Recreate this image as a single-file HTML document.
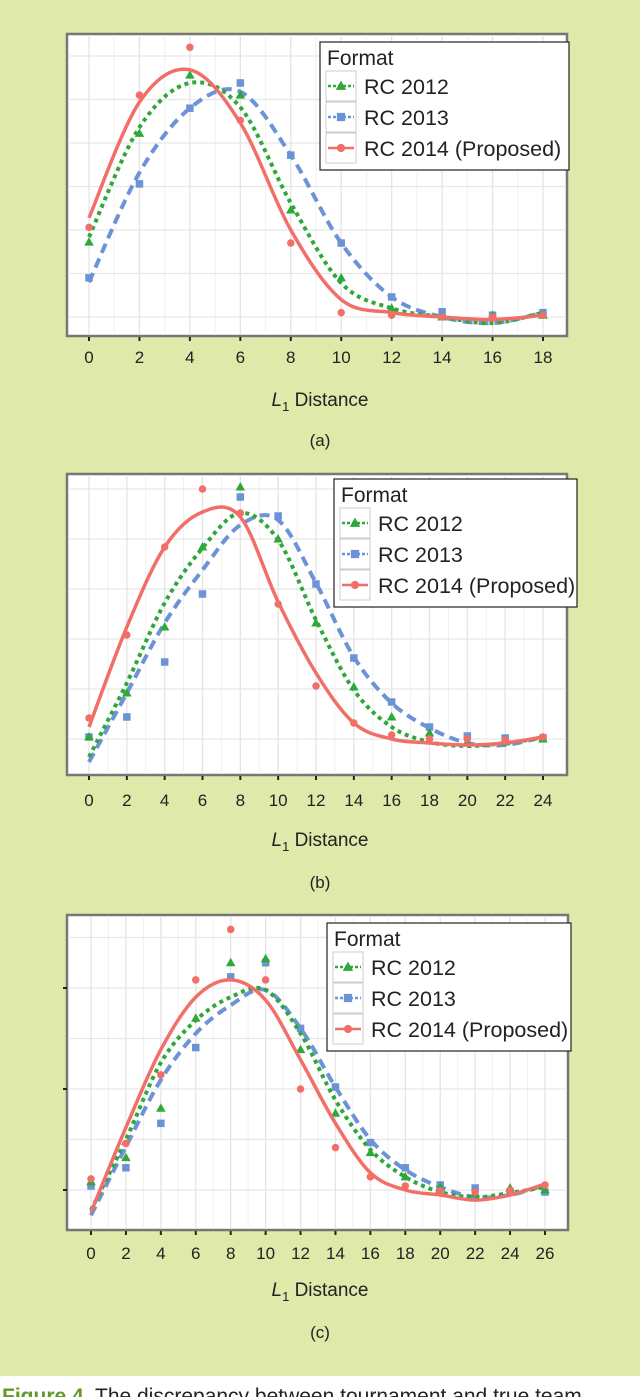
<!DOCTYPE html>
<html><head><meta charset="utf-8">
<style>
html,body{margin:0;padding:0;}
body{width:640px;height:1397px;background:#dfe9aa;position:relative;overflow:hidden;font-family:"Liberation Sans",sans-serif;}
#caption{position:absolute;left:0;top:1376px;width:640px;height:21px;background:#fff;overflow:hidden;}
#caption span{position:absolute;left:2px;top:9px;font-size:21px;white-space:nowrap;color:#222;}
#caption b{color:#5d9a2a;}
</style></head>
<body>
<svg id="fig" width="640" height="1376" style="position:absolute;left:0;top:0"></svg>
<div id="caption"><span><b>Figure 4.</b> The discrepancy between tournament and true team</span></div>
<script>
// ---- Panel (a) data ----
const xA = [0,2,4,6,8,10,12,14,16,18];
const ptsA_2012 = [0.86,2.11,2.78,2.55,1.23,0.45,0.10,0.00,0.02,0.02];
const ptsA_2013 = [0.45,1.53,2.40,2.69,1.86,0.85,0.23,0.06,0.02,0.05];
const ptsA_2014 = [1.03,2.55,3.10,2.26,0.85,0.05,0.02,0.00,0.00,0.02];
const fitA_2012 = [0.92,2.18,2.69,2.41,1.31,0.39,0.10,0.00,-0.07,0.05];
const fitA_2013 = [0.40,1.66,2.40,2.59,1.86,0.85,0.23,0.00,-0.07,0.05];
const fitA_2014 = [1.14,2.47,2.84,2.23,1.00,0.20,0.05,0.00,-0.03,0.02];
// ---- Panel (b) data ----
const xB = [0,2,4,6,8,10,12,14,16,18,20,22,24];
const ptsB_2012 = [0.04,0.92,2.24,3.84,5.04,4.00,2.32,1.04,0.44,0.12,-0.06,-0.06,0.00];
const ptsB_2013 = [0.04,0.44,1.54,2.90,4.84,4.46,3.10,1.62,0.74,0.24,0.06,0.02,0.02];
const ptsB_2014 = [0.42,2.08,3.84,5.00,4.52,2.70,1.06,0.32,0.08,0.00,0.00,-0.02,0.04];
const fitB_2012 = [-0.36,1.12,2.72,3.82,4.52,3.98,2.38,0.98,0.24,-0.06,-0.14,-0.08,0.02];
const fitB_2013 = [-0.46,0.92,2.32,3.38,4.28,4.38,3.12,1.64,0.72,0.22,-0.08,-0.12,0.04];
const fitB_2014 = [0.24,2.24,3.84,4.54,4.44,2.74,1.32,0.32,0.00,-0.08,-0.12,-0.08,0.04];
// ---- Panel (c) data ----
const xC = [0,2,4,6,8,10,12,14,16,18,20,22,24,26];
const ptsC_2012 = [0.08,0.32,0.81,1.70,2.25,2.29,1.39,0.76,0.37,0.13,0.03,-0.03,0.02,0.00];
const ptsC_2013 = [0.04,0.22,0.66,1.41,2.11,2.25,1.60,1.02,0.47,0.22,0.05,0.02,-0.02,-0.02];
const ptsC_2014 = [0.11,0.46,1.14,2.08,2.58,2.08,1.00,0.42,0.13,0.04,-0.01,-0.02,0.00,0.05];
const fitC_2012 = [-0.20,0.50,1.26,1.68,1.91,1.98,1.55,0.89,0.40,0.13,-0.02,-0.07,-0.03,0.03];
const fitC_2013 = [-0.25,0.43,1.09,1.55,1.83,1.98,1.60,1.02,0.50,0.20,0.03,-0.07,-0.05,0.05];
const fitC_2014 = [-0.22,0.62,1.39,1.91,2.08,1.88,1.29,0.66,0.17,0.00,-0.05,-0.10,-0.05,0.06];
const xTicksA = [0,2,4,6,8,10,12,14,16,18];
const xTicksB = [0,2,4,6,8,10,12,14,16,18,20,22,24];
const xTicksC = [0,2,4,6,8,10,12,14,16,18,20,22,24,26];
const seriesNames = ["RC 2012","RC 2013","RC 2014 (Proposed)"];

const NS="http://www.w3.org/2000/svg";
const svg=document.getElementById('fig');
const COLORS={g:"#2fa83a",b:"#6b93d6",r:"#f26f69"};
function mk(tag,attrs,parent){const e=document.createElementNS(NS,tag);for(const k in attrs)e.setAttribute(k,attrs[k]);(parent||svg).appendChild(e);return e;}
function spline(pts){let d=`M${pts[0][0]},${pts[0][1]}`;for(let i=0;i<pts.length-1;i++){const p0=pts[Math.max(i-1,0)],p1=pts[i],p2=pts[i+1],p3=pts[Math.min(i+2,pts.length-1)];const c1=[p1[0]+(p2[0]-p0[0])/6,p1[1]+(p2[1]-p0[1])/6],c2=[p2[0]-(p3[0]-p1[0])/6,p2[1]-(p3[1]-p1[1])/6];d+=` C${c1[0].toFixed(1)},${c1[1].toFixed(1)} ${c2[0].toFixed(1)},${c2[1].toFixed(1)} ${p2[0]},${p2[1]}`;}return d;}
function marker(g,type,x,y,col,s){
  if(type==='tri'){return mk('polygon',{points:`${x},${y-s} ${x-s*0.95},${y+s*0.7} ${x+s*0.95},${y+s*0.7}`,fill:col},g);}
  if(type==='sq'){return mk('rect',{x:x-s*0.75,y:y-s*0.75,width:s*1.5,height:s*1.5,fill:col},g);}
  return mk('circle',{cx:x,cy:y,r:s*0.75,fill:col},g);
}
function panel(cfg){
  const g=mk('g',{});
  
  
  const X=v=>cfg.x0+(v-cfg.xs[0])*(cfg.x1-cfg.x0)/(cfg.xs[cfg.xs.length-1]-cfg.xs[0]);
  const Y=v=>cfg.y0-v*cfg.unit;
  const bg=mk('rect',{x:cfg.bx,y:cfg.by,width:cfg.bw,height:cfg.bh,fill:"#fff",stroke:"#777","stroke-width":2.5},g);
  
  
  const xmax=cfg.xs[cfg.xs.length-1];
  for(let v=0;v<=xmax;v++){const x=X(v);mk('line',{x1:x,x2:x,y1:cfg.by+1,y2:cfg.by+cfg.bh-1,stroke:v%2?"#f1f1f1":"#e4e4e4","stroke-width":v%2?1:1.3},g);}
  for(let k=-cfg.gBelow;k<=cfg.gAbove;k++){const y=cfg.y0-k*cfg.gStep;if(y<=cfg.by||y>=cfg.by+cfg.bh)continue;mk('line',{x1:cfg.bx+1,x2:cfg.bx+cfg.bw-1,y1:y,y2:y,stroke:"#e6e6e6","stroke-width":1.3},g);}
  (cfg.yTicks||[]).forEach(v=>{const t=mk('line',{x1:cfg.bx-4,x2:cfg.bx,y1:Y(v),y2:Y(v),stroke:"#222","stroke-width":2},g);});
  cfg.ticks.forEach(v=>{
    const t=mk('line',{x1:X(v),x2:X(v),y1:cfg.by+cfg.bh+1,y2:cfg.by+cfg.bh+5,stroke:"#222","stroke-width":2},g);
    
    const l=mk('text',{x:X(v),y:cfg.tickY,"font-size":17,"text-anchor":"middle",fill:"#222"},g);l.textContent=v;
    
  });
  const at=mk('text',{x:320,y:cfg.titleY,"font-size":19,"text-anchor":"middle",fill:"#222"},g);
  at.innerHTML='<tspan font-style="italic">L</tspan><tspan font-size="13" dy="5">1</tspan><tspan dy="-5"> Distance</tspan>';
  
  const pl=mk('text',{x:320,y:cfg.labY,"font-size":17,"text-anchor":"middle",fill:"#222"},g);pl.textContent='('+cfg.id+')';
  
  const ser=[
    {fit:cfg.fits[1],pts:cfg.pts[1],col:COLORS.b,dash:"10,6",w:4,m:'sq',name:'series-rc2013'},
    {fit:cfg.fits[0],pts:cfg.pts[0],col:COLORS.g,dash:"4,4",w:4,m:'tri',name:'series-rc2012'},
    {fit:cfg.fits[2],pts:cfg.pts[2],col:COLORS.r,dash:"none",w:3.5,m:'circ',name:'series-rc2014'}];
  ser.forEach(s=>{
    const sg=mk('g',{},g);
    
    s.pts.forEach((v,i)=>{const m=marker(sg,s.m,X(cfg.xs[i]),Y(v),s.col,5);});
    const p=mk('path',{d:spline(s.fit.map((v,i)=>[X(cfg.xs[i]),+Y(v).toFixed(1)])),fill:"none",stroke:s.col,"stroke-width":s.w,"stroke-dasharray":s.dash},sg);
    
  });
  const lg=mk('g',{},g);
  
  mk('rect',{x:cfg.lx,y:cfg.ly,width:cfg.lw,height:128,fill:"#fff",stroke:"#222","stroke-width":1.2},lg);
  const lt=mk('text',{x:cfg.lx+7,y:cfg.ly+23,"font-size":21,fill:"#222"},lg);lt.textContent='Format';
  
  const order=[[COLORS.g,"4,4",'tri'],[COLORS.b,"10,6",'sq'],[COLORS.r,"none",'circ']];
  order.forEach((o,i)=>{
    const cy=cfg.ly+44+i*31;
    const e=mk('g',{},lg);
    
    mk('rect',{x:cfg.lx+6,y:cy-15,width:30,height:30,fill:"#fff",stroke:"#ccc","stroke-width":1},e);
    mk('line',{x1:cfg.lx+8,x2:cfg.lx+34,y1:cy,y2:cy,stroke:o[0],"stroke-width":2.5,"stroke-dasharray":o[1]=="none"?"none":"3,2"},e);
    marker(e,o[2],cfg.lx+21,cy,o[0],5.5);
    const t=mk('text',{x:cfg.lx+44,y:cy+8,"font-size":21.5,fill:"#222"},e);t.textContent=seriesNames[i];
  });
}
panel({id:'a',xs:xA,ticks:xTicksA,x0:89,x1:543,y0:317,unit:87,gStep:43.5,gBelow:0,gAbove:7,bx:67,by:34,bw:500,bh:302,tickY:363,titleY:406,labY:446,
  pts:[ptsA_2012,ptsA_2013,ptsA_2014],fits:[fitA_2012,fitA_2013,fitA_2014],lx:320,ly:42,lw:249});
panel({id:'b',xs:xB,ticks:xTicksB,x0:89,x1:543,y0:739,unit:50,gStep:50,gBelow:0,gAbove:6,bx:67,by:474,bw:500,bh:301,tickY:806,titleY:846,labY:888,
  pts:[ptsB_2012,ptsB_2013,ptsB_2014],fits:[fitB_2012,fitB_2013,fitB_2014],lx:334,ly:479,lw:243});
panel({id:'c',xs:xC,ticks:xTicksC,x0:91,x1:545,y0:1190,unit:101,gStep:50.5,gBelow:0,gAbove:5,bx:67,by:915,bw:501,bh:315,tickY:1259,titleY:1296,labY:1338,yTicks:[0,1,2],
  pts:[ptsC_2012,ptsC_2013,ptsC_2014],fits:[fitC_2012,fitC_2013,fitC_2014],lx:327,ly:923,lw:244});
</script>
</body></html>
